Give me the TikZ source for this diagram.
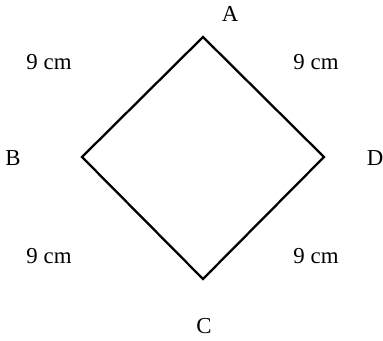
\documentclass[tikz,border=0pt]{standalone}
\usepackage{fontspec}
\setmainfont{Liberation Serif}
\usepackage{tikz}
\usetikzlibrary{calc, positioning}
\tikzset{
  sq/.style   = {draw, line width=1.3pt, line join=miter},
  vlbl/.style = {font=\fontsize{13}{15}\selectfont, inner sep=0pt},
  slbl/.style = {font=\fontsize{13}{15}\selectfont, inner sep=0pt},
}

\begin{document}
\begin{tikzpicture}[x=0.02cm, y=-0.02cm]
  \useasboundingbox (0,0) rectangle (383,341);
  \coordinate (pA) at (203, 37);
  \coordinate (pB) at (82, 157);
  \coordinate (pC) at (203, 279);
  \coordinate (pD) at (324, 157);
  \draw[sq] (pA) -- (pD) -- (pC) -- (pB) -- cycle;
  \node[vlbl] (lA) at (230, 14) {A};
  \node[vlbl] (lB) at (13, 158) {B};
  \node[vlbl] (lC) at (204, 326) {C};
  \node[vlbl] (lD) at (375, 158) {D};
  \node[slbl] (sAB) at (49, 62) {9 cm};
  \node[slbl] (sAD) at (316, 62) {9 cm};
  \node[slbl] (sBC) at (49, 256) {9 cm};
  \node[slbl] (sCD) at (316, 256) {9 cm};
\end{tikzpicture}
\end{document}
